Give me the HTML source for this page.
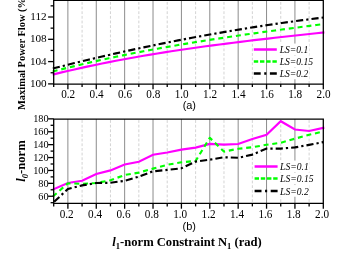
<!DOCTYPE html>
<html><head><meta charset="utf-8"><style>html,body{margin:0;padding:0;background:#fff;}svg{display:block;will-change:transform;opacity:0.999}</style></head><body>
<svg width="360" height="253" viewBox="0 0 360 253">
<rect width="360" height="253" fill="#fff"/>
<line x1="67.89" x2="67.89" y1="0" y2="84" stroke="#8c8c8c" stroke-width="1"/>
<line x1="67.89" x2="67.89" y1="119" y2="203.4" stroke="#8c8c8c" stroke-width="1"/>
<line x1="82.08" x2="82.08" y1="0" y2="84" stroke="#c8c8c8" stroke-width="0.8" stroke-dasharray="2.8,1.85" stroke-dashoffset="2.7"/>
<line x1="82.08" x2="82.08" y1="119.1" y2="203.4" stroke="#c8c8c8" stroke-width="0.8" stroke-dasharray="2.8,1.85" stroke-dashoffset="3.65"/>
<line x1="96.27" x2="96.27" y1="0" y2="84" stroke="#8c8c8c" stroke-width="1"/>
<line x1="96.27" x2="96.27" y1="119" y2="203.4" stroke="#8c8c8c" stroke-width="1"/>
<line x1="110.46" x2="110.46" y1="0" y2="84" stroke="#c8c8c8" stroke-width="0.8" stroke-dasharray="2.8,1.85" stroke-dashoffset="2.7"/>
<line x1="110.46" x2="110.46" y1="119.1" y2="203.4" stroke="#c8c8c8" stroke-width="0.8" stroke-dasharray="2.8,1.85" stroke-dashoffset="3.65"/>
<line x1="124.65" x2="124.65" y1="0" y2="84" stroke="#8c8c8c" stroke-width="1"/>
<line x1="124.65" x2="124.65" y1="119" y2="203.4" stroke="#8c8c8c" stroke-width="1"/>
<line x1="138.84" x2="138.84" y1="0" y2="84" stroke="#c8c8c8" stroke-width="0.8" stroke-dasharray="2.8,1.85" stroke-dashoffset="2.7"/>
<line x1="138.84" x2="138.84" y1="119.1" y2="203.4" stroke="#c8c8c8" stroke-width="0.8" stroke-dasharray="2.8,1.85" stroke-dashoffset="3.65"/>
<line x1="153.03" x2="153.03" y1="0" y2="84" stroke="#8c8c8c" stroke-width="1"/>
<line x1="153.03" x2="153.03" y1="119" y2="203.4" stroke="#8c8c8c" stroke-width="1"/>
<line x1="167.22" x2="167.22" y1="0" y2="84" stroke="#c8c8c8" stroke-width="0.8" stroke-dasharray="2.8,1.85" stroke-dashoffset="2.7"/>
<line x1="167.22" x2="167.22" y1="119.1" y2="203.4" stroke="#c8c8c8" stroke-width="0.8" stroke-dasharray="2.8,1.85" stroke-dashoffset="3.65"/>
<line x1="181.41" x2="181.41" y1="0" y2="84" stroke="#8c8c8c" stroke-width="1"/>
<line x1="181.41" x2="181.41" y1="119" y2="203.4" stroke="#8c8c8c" stroke-width="1"/>
<line x1="195.60" x2="195.60" y1="0" y2="84" stroke="#c8c8c8" stroke-width="0.8" stroke-dasharray="2.8,1.85" stroke-dashoffset="2.7"/>
<line x1="195.60" x2="195.60" y1="119.1" y2="203.4" stroke="#c8c8c8" stroke-width="0.8" stroke-dasharray="2.8,1.85" stroke-dashoffset="3.65"/>
<line x1="209.79" x2="209.79" y1="0" y2="84" stroke="#8c8c8c" stroke-width="1"/>
<line x1="209.79" x2="209.79" y1="119" y2="203.4" stroke="#8c8c8c" stroke-width="1"/>
<line x1="223.98" x2="223.98" y1="0" y2="84" stroke="#c8c8c8" stroke-width="0.8" stroke-dasharray="2.8,1.85" stroke-dashoffset="2.7"/>
<line x1="223.98" x2="223.98" y1="119.1" y2="203.4" stroke="#c8c8c8" stroke-width="0.8" stroke-dasharray="2.8,1.85" stroke-dashoffset="3.65"/>
<line x1="238.17" x2="238.17" y1="0" y2="84" stroke="#8c8c8c" stroke-width="1"/>
<line x1="238.17" x2="238.17" y1="119" y2="203.4" stroke="#8c8c8c" stroke-width="1"/>
<line x1="252.36" x2="252.36" y1="0" y2="84" stroke="#c8c8c8" stroke-width="0.8" stroke-dasharray="2.8,1.85" stroke-dashoffset="2.7"/>
<line x1="252.36" x2="252.36" y1="119.1" y2="203.4" stroke="#c8c8c8" stroke-width="0.8" stroke-dasharray="2.8,1.85" stroke-dashoffset="3.65"/>
<line x1="266.55" x2="266.55" y1="0" y2="84" stroke="#8c8c8c" stroke-width="1"/>
<line x1="266.55" x2="266.55" y1="119" y2="203.4" stroke="#8c8c8c" stroke-width="1"/>
<line x1="280.74" x2="280.74" y1="0" y2="84" stroke="#c8c8c8" stroke-width="0.8" stroke-dasharray="2.8,1.85" stroke-dashoffset="2.7"/>
<line x1="280.74" x2="280.74" y1="119.1" y2="203.4" stroke="#c8c8c8" stroke-width="0.8" stroke-dasharray="2.8,1.85" stroke-dashoffset="3.65"/>
<line x1="294.93" x2="294.93" y1="0" y2="84" stroke="#8c8c8c" stroke-width="1"/>
<line x1="294.93" x2="294.93" y1="119" y2="203.4" stroke="#8c8c8c" stroke-width="1"/>
<line x1="309.12" x2="309.12" y1="0" y2="84" stroke="#c8c8c8" stroke-width="0.8" stroke-dasharray="2.8,1.85" stroke-dashoffset="2.7"/>
<line x1="309.12" x2="309.12" y1="119.1" y2="203.4" stroke="#c8c8c8" stroke-width="0.8" stroke-dasharray="2.8,1.85" stroke-dashoffset="3.65"/>
<g fill="none" stroke-width="2.15">
<path d="M53.70,74.34 L60.61,72.66 L67.53,71.03 L74.44,69.44 L81.35,67.90 L88.26,66.40 L95.18,64.94 L102.09,63.52 L109.00,62.14 L115.92,60.80 L122.83,59.49 L129.74,58.22 L136.65,56.99 L143.57,55.79 L150.48,54.62 L157.39,53.48 L164.31,52.38 L171.22,51.30 L178.13,50.25 L185.04,49.22 L191.96,48.22 L198.87,47.25 L205.78,46.30 L212.69,45.37 L219.61,44.46 L226.52,43.57 L233.43,42.70 L240.35,41.84 L247.26,41.01 L254.17,40.18 L261.08,39.37 L268.00,38.58 L274.91,37.79 L281.82,37.02 L288.74,36.26 L295.65,35.50 L302.56,34.75 L309.47,34.00 L316.39,33.26 L323.30,32.53" stroke="#ff00ff" stroke-linecap="square"/>
<path d="M52.44,71.61 L53.70,71.29 L60.61,69.52 L67.53,67.79 L74.44,66.11 L81.35,64.46 L88.26,62.85 L95.18,61.28 L102.09,59.75 L109.00,58.26 L115.92,56.79 L122.83,55.37 L129.74,53.97 L136.65,52.61 L143.57,51.28 L150.48,49.98 L157.39,48.70 L164.31,47.46 L171.22,46.24 L178.13,45.05 L185.04,43.88 L191.96,42.73 L198.87,41.61 L205.78,40.51 L212.69,39.43 L219.61,38.37 L226.52,37.33 L233.43,36.30 L240.35,35.30 L247.26,34.30 L254.17,33.33 L261.08,32.36 L268.00,31.41 L274.91,30.47 L281.82,29.54 L288.74,28.62 L295.65,27.71 L302.56,26.80 L309.47,25.91 L316.39,25.01 L323.30,24.12" stroke="#00ff00" stroke-dasharray="5,3.895" stroke-dashoffset="-0.2"/>
<path d="M52.44,68.57 L53.70,68.25 L60.61,66.50 L67.53,64.78 L74.44,63.08 L81.35,61.41 L88.26,59.76 L95.18,58.13 L102.09,56.52 L109.00,54.94 L115.92,53.38 L122.83,51.85 L129.74,50.34 L136.65,48.85 L143.57,47.38 L150.48,45.94 L157.39,44.52 L164.31,43.13 L171.22,41.76 L178.13,40.41 L185.04,39.09 L191.96,37.79 L198.87,36.51 L205.78,35.26 L212.69,34.03 L219.61,32.82 L226.52,31.64 L233.43,30.48 L240.35,29.34 L247.26,28.23 L254.17,27.14 L261.08,26.07 L268.00,25.03 L274.91,24.01 L281.82,23.02 L288.74,22.05 L295.65,21.10 L302.56,20.17 L309.47,19.27 L316.39,18.39 L323.30,17.54" stroke="#000" stroke-dasharray="7.15,3.05,2.25,3.05" stroke-dashoffset="-0.4"/>
<path d="M53.70,189.20 L67.89,183.00 L82.08,180.70 L96.27,174.00 L110.46,170.40 L124.65,164.50 L138.84,161.80 L153.03,154.80 L167.22,152.50 L181.41,149.60 L195.60,147.60 L209.79,143.90 L223.98,144.60 L238.17,144.00 L252.36,139.00 L266.55,134.80 L280.74,121.20 L294.93,129.50 L309.12,131.00 L323.31,127.90" stroke="#ff00ff" stroke-linejoin="miter" stroke-miterlimit="10" stroke-linecap="square"/>
<path d="M52.72,196.66 L53.70,195.80 L67.89,183.30 L82.08,183.80 L96.27,183.00 L110.46,180.20 L124.65,175.00 L138.84,172.60 L153.03,168.60 L167.22,164.80 L181.41,162.30 L195.60,161.00 L209.79,137.80 L223.98,151.60 L238.17,148.80 L252.36,147.20 L266.55,144.80 L280.74,142.80 L294.93,138.70 L309.12,134.80 L323.31,131.50" stroke="#00ff00" stroke-dasharray="5,3.8" stroke-dashoffset="-0.2" stroke-linejoin="round"/>
<path d="M52.75,203.09 L53.70,202.20 L67.89,189.00 L82.08,185.40 L96.27,183.00 L110.46,182.80 L124.65,180.80 L138.84,176.60 L153.03,171.30 L167.22,169.90 L181.41,168.30 L195.60,161.60 L209.79,159.70 L223.98,157.30 L238.17,157.80 L252.36,154.60 L266.55,148.60 L280.74,148.60 L294.93,147.40 L309.12,144.90 L323.31,142.10" stroke="#000" stroke-dasharray="7.15,3.05,2.25,3.05" stroke-dashoffset="-1.9"/>
</g>
<rect x="279.30" y="43.55" width="29.90" height="11.7" fill="#fff"/>
<line x1="253.8" x2="276.8" y1="49.5" y2="49.5" stroke="#ff00ff" stroke-width="2.5"/>
<text x="279.7" y="53.15" font-family="Liberation Serif, serif" font-style="italic" font-size="9.6">LS=0.1</text>
<rect x="279.30" y="55.55" width="34.70" height="11.7" fill="#fff"/>
<line x1="253.8" x2="276.8" y1="61.5" y2="61.5" stroke="#00ff00" stroke-width="2.5" stroke-dasharray="4.4,1.8"/>
<text x="279.7" y="65.15" font-family="Liberation Serif, serif" font-style="italic" font-size="9.6">LS=0.15</text>
<rect x="279.30" y="67.55" width="29.90" height="11.7" fill="#fff"/>
<line x1="253.8" x2="276.8" y1="73.5" y2="73.5" stroke="#000" stroke-width="2.5" stroke-dasharray="6.9,3.55,2.1,3.55"/>
<text x="279.7" y="77.15" font-family="Liberation Serif, serif" font-style="italic" font-size="9.6">LS=0.2</text>
<rect x="279.70" y="160.55" width="29.90" height="11.7" fill="#fff"/>
<line x1="254.6" x2="277.6" y1="166.5" y2="166.5" stroke="#ff00ff" stroke-width="2.5"/>
<text x="280.1" y="170.15" font-family="Liberation Serif, serif" font-style="italic" font-size="9.6">LS=0.1</text>
<rect x="279.70" y="172.65" width="34.70" height="11.7" fill="#fff"/>
<line x1="254.6" x2="277.6" y1="178.6" y2="178.6" stroke="#00ff00" stroke-width="2.5" stroke-dasharray="4.4,1.8"/>
<text x="280.1" y="182.25" font-family="Liberation Serif, serif" font-style="italic" font-size="9.6">LS=0.15</text>
<rect x="279.70" y="185.05" width="29.90" height="11.7" fill="#fff"/>
<line x1="254.6" x2="277.6" y1="191" y2="191" stroke="#000" stroke-width="2.5" stroke-dasharray="6.9,3.55,2.1,3.55"/>
<text x="280.1" y="194.65" font-family="Liberation Serif, serif" font-style="italic" font-size="9.6">LS=0.2</text>
<g stroke="#000" stroke-width="1.3" fill="none">
<path d="M53.7,0.4 V84.1 H323.3 V0.4 Z"/>
<path d="M53.7,119.1 V203.4 H323.3 V119.1 Z"/>
<line x1="48.1" x2="53.7" y1="83.90" y2="83.90"/>
<line x1="50.6" x2="53.7" y1="72.75" y2="72.75"/>
<line x1="48.1" x2="53.7" y1="61.60" y2="61.60"/>
<line x1="50.6" x2="53.7" y1="50.45" y2="50.45"/>
<line x1="48.1" x2="53.7" y1="39.30" y2="39.30"/>
<line x1="50.6" x2="53.7" y1="28.15" y2="28.15"/>
<line x1="48.1" x2="53.7" y1="17.00" y2="17.00"/>
<line x1="50.6" x2="53.7" y1="5.85" y2="5.85"/>
<line x1="50.6" x2="53.7" y1="202.70" y2="202.70"/>
<line x1="48.1" x2="53.7" y1="196.25" y2="196.25"/>
<line x1="50.6" x2="53.7" y1="189.80" y2="189.80"/>
<line x1="48.1" x2="53.7" y1="183.35" y2="183.35"/>
<line x1="50.6" x2="53.7" y1="176.90" y2="176.90"/>
<line x1="48.1" x2="53.7" y1="170.45" y2="170.45"/>
<line x1="50.6" x2="53.7" y1="164.00" y2="164.00"/>
<line x1="48.1" x2="53.7" y1="157.55" y2="157.55"/>
<line x1="50.6" x2="53.7" y1="151.10" y2="151.10"/>
<line x1="48.1" x2="53.7" y1="144.65" y2="144.65"/>
<line x1="50.6" x2="53.7" y1="138.20" y2="138.20"/>
<line x1="48.1" x2="53.7" y1="131.75" y2="131.75"/>
<line x1="50.6" x2="53.7" y1="125.30" y2="125.30"/>
<line x1="48.1" x2="53.7" y1="118.85" y2="118.85"/>
<line x1="53.70" x2="53.70" y1="84" y2="87"/>
<line x1="53.70" x2="53.70" y1="203.4" y2="206.4"/>
<line x1="67.89" x2="67.89" y1="84" y2="89.3"/>
<line x1="67.89" x2="67.89" y1="203.4" y2="208.70000000000002"/>
<line x1="82.08" x2="82.08" y1="84" y2="87"/>
<line x1="82.08" x2="82.08" y1="203.4" y2="206.4"/>
<line x1="96.27" x2="96.27" y1="84" y2="89.3"/>
<line x1="96.27" x2="96.27" y1="203.4" y2="208.70000000000002"/>
<line x1="110.46" x2="110.46" y1="84" y2="87"/>
<line x1="110.46" x2="110.46" y1="203.4" y2="206.4"/>
<line x1="124.65" x2="124.65" y1="84" y2="89.3"/>
<line x1="124.65" x2="124.65" y1="203.4" y2="208.70000000000002"/>
<line x1="138.84" x2="138.84" y1="84" y2="87"/>
<line x1="138.84" x2="138.84" y1="203.4" y2="206.4"/>
<line x1="153.03" x2="153.03" y1="84" y2="89.3"/>
<line x1="153.03" x2="153.03" y1="203.4" y2="208.70000000000002"/>
<line x1="167.22" x2="167.22" y1="84" y2="87"/>
<line x1="167.22" x2="167.22" y1="203.4" y2="206.4"/>
<line x1="181.41" x2="181.41" y1="84" y2="89.3"/>
<line x1="181.41" x2="181.41" y1="203.4" y2="208.70000000000002"/>
<line x1="195.60" x2="195.60" y1="84" y2="87"/>
<line x1="195.60" x2="195.60" y1="203.4" y2="206.4"/>
<line x1="209.79" x2="209.79" y1="84" y2="89.3"/>
<line x1="209.79" x2="209.79" y1="203.4" y2="208.70000000000002"/>
<line x1="223.98" x2="223.98" y1="84" y2="87"/>
<line x1="223.98" x2="223.98" y1="203.4" y2="206.4"/>
<line x1="238.17" x2="238.17" y1="84" y2="89.3"/>
<line x1="238.17" x2="238.17" y1="203.4" y2="208.70000000000002"/>
<line x1="252.36" x2="252.36" y1="84" y2="87"/>
<line x1="252.36" x2="252.36" y1="203.4" y2="206.4"/>
<line x1="266.55" x2="266.55" y1="84" y2="89.3"/>
<line x1="266.55" x2="266.55" y1="203.4" y2="208.70000000000002"/>
<line x1="280.74" x2="280.74" y1="84" y2="87"/>
<line x1="280.74" x2="280.74" y1="203.4" y2="206.4"/>
<line x1="294.93" x2="294.93" y1="84" y2="89.3"/>
<line x1="294.93" x2="294.93" y1="203.4" y2="208.70000000000002"/>
<line x1="309.12" x2="309.12" y1="84" y2="87"/>
<line x1="309.12" x2="309.12" y1="203.4" y2="206.4"/>
<line x1="323.31" x2="323.31" y1="84" y2="89.3"/>
<line x1="323.31" x2="323.31" y1="203.4" y2="208.70000000000002"/>
</g>
<g font-family="Liberation Serif, serif" font-size="11.2" fill="#000">
<text transform="translate(68.2,97.9) scale(0.92,1)" font-size="12.2" text-anchor="middle">0.2</text>
<text transform="translate(66.7,217.8) scale(0.92,1)" font-size="12.2" text-anchor="middle">0.2</text>
<text transform="translate(96.6,97.9) scale(0.92,1)" font-size="12.2" text-anchor="middle">0.4</text>
<text transform="translate(95.1,217.8) scale(0.92,1)" font-size="12.2" text-anchor="middle">0.4</text>
<text transform="translate(125.0,97.9) scale(0.92,1)" font-size="12.2" text-anchor="middle">0.6</text>
<text transform="translate(123.5,217.8) scale(0.92,1)" font-size="12.2" text-anchor="middle">0.6</text>
<text transform="translate(153.3,97.9) scale(0.92,1)" font-size="12.2" text-anchor="middle">0.8</text>
<text transform="translate(151.8,217.8) scale(0.92,1)" font-size="12.2" text-anchor="middle">0.8</text>
<text transform="translate(181.7,97.9) scale(0.92,1)" font-size="12.2" text-anchor="middle">1.0</text>
<text transform="translate(180.2,217.8) scale(0.92,1)" font-size="12.2" text-anchor="middle">1.0</text>
<text transform="translate(210.1,97.9) scale(0.92,1)" font-size="12.2" text-anchor="middle">1.2</text>
<text transform="translate(208.6,217.8) scale(0.92,1)" font-size="12.2" text-anchor="middle">1.2</text>
<text transform="translate(238.5,97.9) scale(0.92,1)" font-size="12.2" text-anchor="middle">1.4</text>
<text transform="translate(237.0,217.8) scale(0.92,1)" font-size="12.2" text-anchor="middle">1.4</text>
<text transform="translate(266.9,97.9) scale(0.92,1)" font-size="12.2" text-anchor="middle">1.6</text>
<text transform="translate(265.4,217.8) scale(0.92,1)" font-size="12.2" text-anchor="middle">1.6</text>
<text transform="translate(295.2,97.9) scale(0.92,1)" font-size="12.2" text-anchor="middle">1.8</text>
<text transform="translate(293.7,217.8) scale(0.92,1)" font-size="12.2" text-anchor="middle">1.8</text>
<text transform="translate(323.6,97.9) scale(0.92,1)" font-size="12.2" text-anchor="middle">2.0</text>
<text transform="translate(322.1,217.8) scale(0.92,1)" font-size="12.2" text-anchor="middle">2.0</text>
<text x="46.7" y="87.0" text-anchor="end">100</text>
<text x="46.7" y="64.7" text-anchor="end">104</text>
<text x="46.7" y="42.4" text-anchor="end">108</text>
<text x="46.7" y="20.1" text-anchor="end">112</text>
<text transform="translate(48.6,199.80) scale(0.92,1)" text-anchor="end">60</text>
<text transform="translate(48.6,186.90) scale(0.92,1)" text-anchor="end">80</text>
<text transform="translate(48.6,174.00) scale(0.92,1)" text-anchor="end">100</text>
<text transform="translate(48.6,161.10) scale(0.92,1)" text-anchor="end">120</text>
<text transform="translate(48.6,148.20) scale(0.92,1)" text-anchor="end">140</text>
<text transform="translate(48.6,135.30) scale(0.92,1)" text-anchor="end">160</text>
<text transform="translate(48.6,122.40) scale(0.92,1)" text-anchor="end">180</text>
</g>
<g font-family="Liberation Sans, sans-serif" font-size="11" fill="#000">
<text transform="translate(189.3,108.8) scale(0.96,1)" font-size="11.4" text-anchor="middle">(a)</text>
<text transform="translate(189.3,229.5) scale(0.93,1)" font-size="11.8" text-anchor="middle">(b)</text>
</g>
<g font-family="Liberation Serif, serif" font-weight="bold" font-size="12" fill="#000">
<text x="112.3" y="245.6" font-size="12.6"><tspan font-style="italic">l</tspan><tspan font-size="8.5" dy="3.8">1</tspan><tspan dy="-3.8">-norm Constraint N</tspan><tspan font-size="8.5" dy="3.8">1</tspan><tspan dy="-3.8"> (rad)</tspan></text>
<text transform="translate(24.9,110) rotate(-90)" font-size="10.45">Maximal Power Flow (%)</text>
<text transform="translate(24.5,181.7) rotate(-90)" font-size="12.6"><tspan font-style="italic">l</tspan><tspan font-size="8.5" dy="3.6" font-style="italic">0</tspan><tspan dy="-3.6">-norm</tspan></text>
</g>
</svg>
</body></html>
